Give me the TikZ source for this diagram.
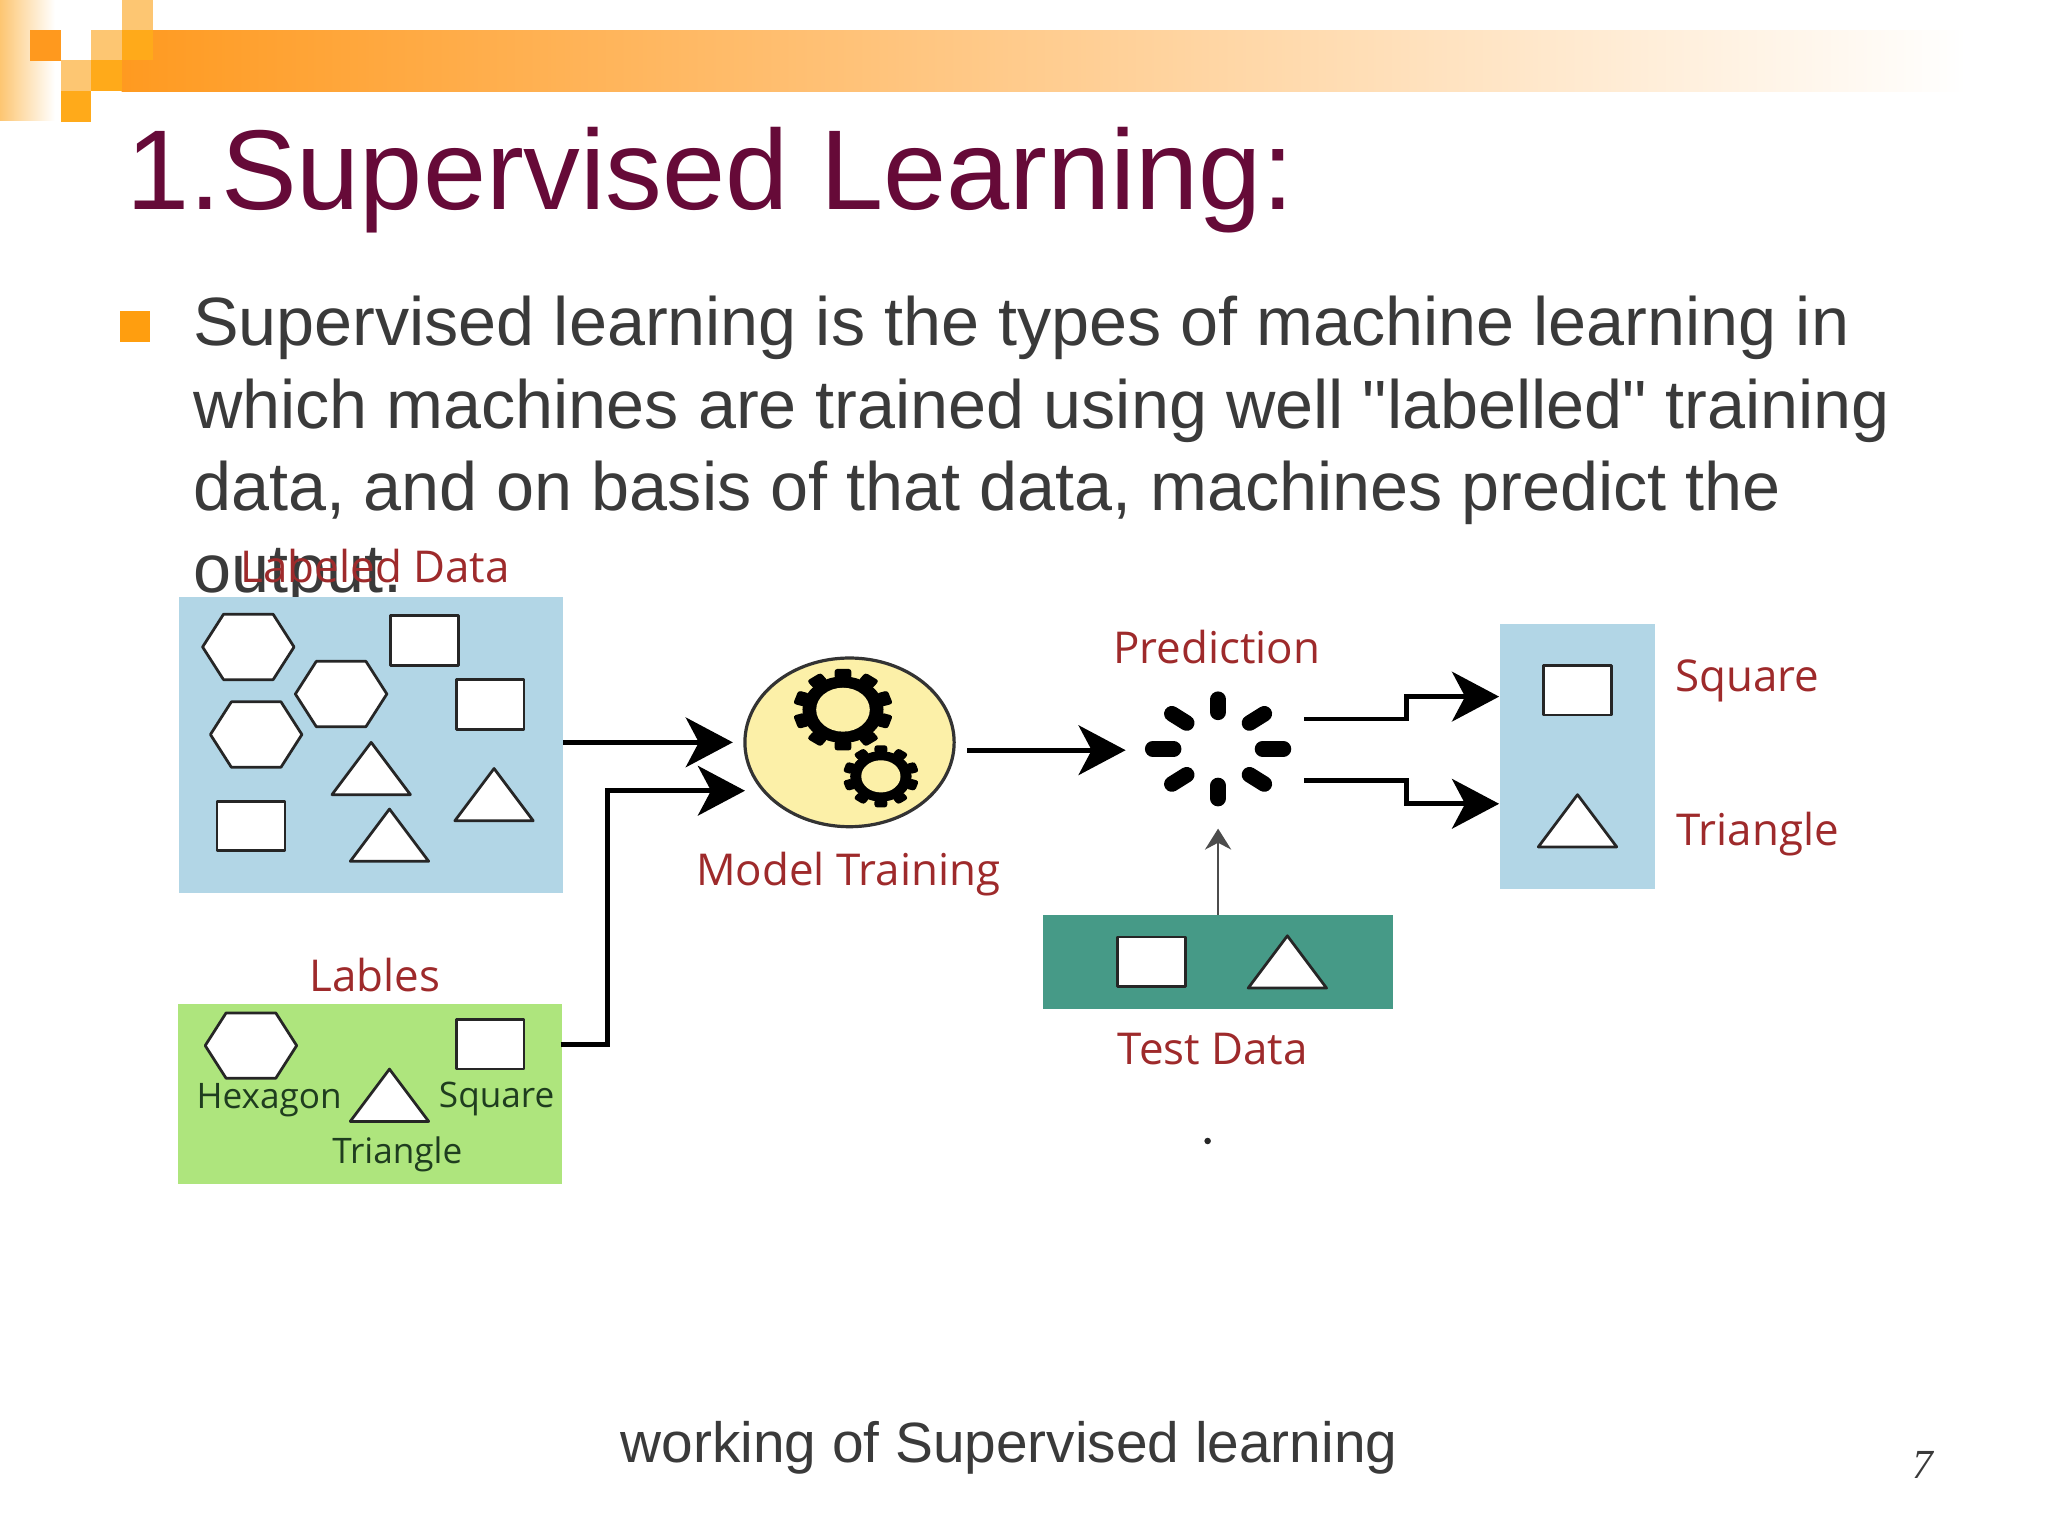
\documentclass[tikz,border=0pt]{standalone}
\usepackage{fontspec}
\setmainfont{Liberation Sans}
\newfontfamily\slidefont{Liberation Sans}
\newfontfamily\figfont{Open Sans}
\newfontfamily\numfont{Liberation Serif}
\usetikzlibrary{arrows.meta,shapes.geometric}
\definecolor{barorange}{HTML}{FF9A20}
\definecolor{barpeach}{HTML}{FFC6A2}
\definecolor{tileorange}{HTML}{FFAA1A}
\definecolor{tilelight}{HTML}{FDC672}
\definecolor{bulletcol}{HTML}{FF9E0F}
\definecolor{titlecol}{HTML}{660A38}
\definecolor{bodycol}{HTML}{3A3A3A}
\definecolor{labelcol}{HTML}{9E2A2B}
\definecolor{greentext}{HTML}{1F3D1F}
\definecolor{skybox}{HTML}{B2D6E6}
\definecolor{greenbox}{HTML}{AEE57D}
\definecolor{tealbox}{HTML}{469A87}
\definecolor{modelfill}{HTML}{FCF0A8}
\tikzset{
  databox/.style={rectangle,inner sep=0pt,outer sep=0pt,draw=none},
  redlabel/.style={font=\figfont\fontsize{9.55}{11}\selectfont,text=labelcol,inner sep=0pt},
  greenlabel/.style={font=\figfont\fontsize{7.65}{9}\selectfont,text=greentext,inner sep=0pt},
  shapeline/.style={draw=black!85,fill=white,line width=0.6pt,line join=round},
  flow/.style={draw=black,line width=1pt,-{Stealth[length=.36cm,width=.38cm,inset=.1cm]}},
  pics/hexa/.style={code={
    \draw[shapeline] (-35,0) -- (-19,-25) -- (19,-25) -- (35,0) -- (19,25) -- (-19,25) -- cycle;}},
  pics/trig/.style={code={
    \draw[shapeline] (-30,20) -- (0,-20) -- (30,20) -- cycle;}},
  pics/recta/.style={code={
    \draw[shapeline] (-26,-19) rectangle (26,19);}},
}
\newcommand{\gearwheel}[5]{%
  \begin{scope}[shift={(#1,#2)},yscale=.82]
    \fill (0,0) circle (#4);
    \foreach \ang in {0,36,...,324}
      \fill[rotate=\ang,rounded corners=.6pt] (-.17*#3,#4-2) rectangle (.17*#3,#3);
    \fill[modelfill] (0,0) circle (#5);
  \end{scope}
}
\begin{document}
\begin{tikzpicture}[x=.01cm,y=-.01cm]
  \useasboundingbox (0,0) rectangle (1567,1175.25);

  \shade[left color=barorange,middle color=barpeach,right color=white] (93,23) rectangle (1505,70);
  \shade[left color=tilelight,right color=white] (0,0) rectangle (42,92);
  \fill[barorange!95!orange] (23,23) rectangle (47,47);
  \fill[tilelight] (70,23) rectangle (93,46);
  \fill[tilelight] (93,0) rectangle (117,23);
  \fill[tileorange] (93,23) rectangle (117,46);
  \fill[tilelight] (47,46) rectangle (70,70);
  \fill[tileorange] (70,46) rectangle (93,70);
  \fill[tileorange] (47,70) rectangle (70,93);

  \node[anchor=base west,inner sep=0pt,text=titlecol,font=\fontsize{24.7}{30}\selectfont] (title) at (96,160) {1.Supervised Learning:};
  \fill[bulletcol] (92,238) rectangle (115,262);
  \node[anchor=north west,inner sep=0pt,text=bodycol,align=left,font=\slidefont\fontsize{14.87}{17.9}\selectfont] (body) at (147,226)
    {Supervised learning is the types of machine learning in\\
     which machines are trained using well "labelled" training\\
     data, and on basis of that data, machines predict the\\
     output.};

  \node[databox,fill=skybox,minimum width=2.94cm,minimum height=2.26cm] (labeled) at (284,570) {};
  \node[databox,fill=greenbox,minimum width=2.94cm,minimum height=1.37cm] (lables) at (283,837) {};
  \node[databox,fill=tealbox,minimum width=2.68cm,minimum height=.72cm] (testdata) at (932,736) {};
  \node[databox,fill=skybox,minimum width=1.18cm,minimum height=2.03cm] (answer) at (1207,579) {};
  \node[ellipse,draw=black!80,fill=modelfill,line width=.7pt,minimum width=1.6cm,minimum height=1.29cm,inner sep=0pt] (model) at (650,568) {};
  \node[circle,minimum size=1.4cm,inner sep=0pt] (spin) at (932,573) {};

  \pic at (190,495) {hexa};
  \pic at (261,531) {hexa};
  \pic at (196,562) {hexa};
  \pic at (192,800) {hexa};
  \pic at (325,490) {recta};
  \pic at (375,539) {recta};
  \pic at (192,632) {recta};
  \pic at (375,799) {recta};
  \pic at (1207,528) {recta};
  \pic at (881,736) {recta};
  \pic at (284,588) {trig};
  \pic at (378,608) {trig};
  \pic at (298,639) {trig};
  \pic at (298,838) {trig};
  \pic at (1207,628) {trig};
  \pic at (985,736) {trig};

  \gearwheel{645}{543}{38}{31}{20.5}
  \gearwheel{674}{594}{29}{23.5}{15}

  \begin{scope}[shift={(spin)}]
    \foreach \ang in {0,45,...,315}
      \draw[line width=3.4pt,line cap=round] (\ang:34 and 28) -- (\ang:50 and 38);
  \end{scope}

  \node[redlabel] (labeledtxt) at (287,433) {Labeled Data};
  \node[redlabel] (predtxt) at (931,495) {Prediction};
  \node[redlabel] (modeltxt) at (649,669) {Model Training};
  \node[redlabel] (lablestxt) at (287,746) {Lables};
  \node[redlabel] (testtxt) at (928,803) {Test Data};
  \node[redlabel] (squaretxt) at (1337,521) {Square};
  \node[redlabel] (triangletxt) at (1345,638) {Triangle};
  \node[greenlabel] (hexlab) at (206,842) {Hexagon};
  \node[greenlabel] (sqlab) at (380,841) {Square};
  \node[greenlabel] (trilab) at (304,883) {Triangle};

  \coordinate (labin) at (570,605);
  \coordinate (labout) at (429,799);
  \coordinate (modelout) at (740,574);
  \coordinate (sqout) at (998,550);
  \coordinate (triout) at (998,597);
  \coordinate (sqin) at (1147,533);
  \coordinate (triin) at (1147,615);
  \coordinate (spinin) at (932,634);

  \draw[flow] (labeled.east |- model) -- ([xshift=-.08cm]model.west);
  \draw[flow] (labout) -- ++(36,0) |- (labin);
  \draw[flow] (modelout) -- (spin.west |- modelout);
  \draw[flow] (sqout) -- ++(78,0) |- (sqin);
  \draw[flow] (triout) -- ++(78,0) |- (triin);
  \draw[draw=black!70,line width=.6pt,-{Stealth[length=.16cm,width=.2cm]}] (testdata.north) -- (spinin);

  \node[circle,fill=black!85,minimum size=.05cm,inner sep=0pt] (dot) at (924,873) {};
  \node[anchor=base,inner sep=0pt,text=bodycol,font=\slidefont\fontsize{12.36}{15}\selectfont] (caption) at (772,1119) {working of Supervised learning};
  \node[anchor=base,inner sep=0pt,text=bodycol,font=\numfont\itshape\fontsize{9}{11}\selectfont] (pagenum) at (1471,1131) {7};
\end{tikzpicture}
\end{document}
